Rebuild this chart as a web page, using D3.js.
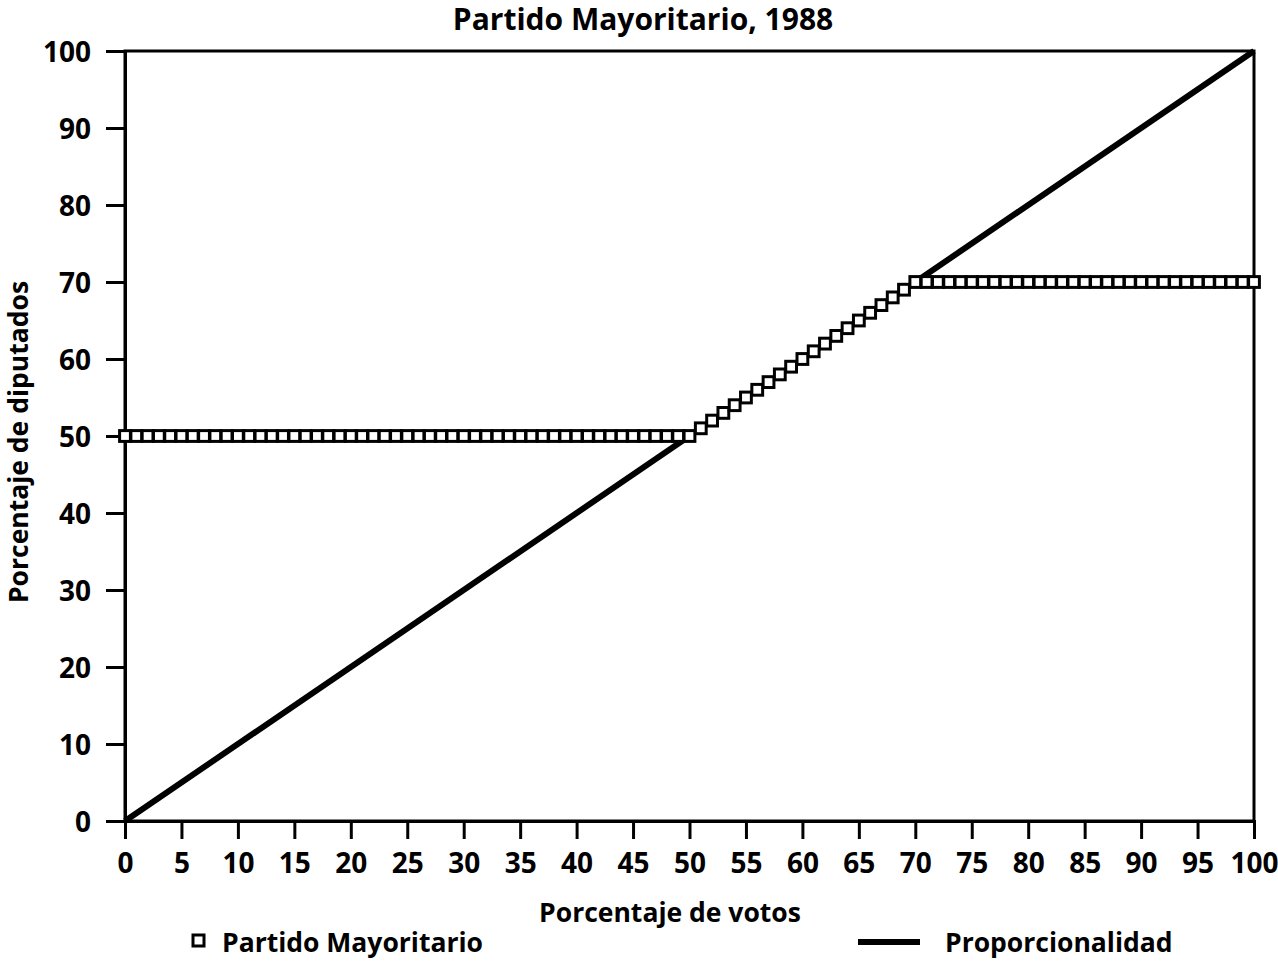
<!DOCTYPE html>
<html><head><meta charset="utf-8">
<script src="https://cdn.jsdelivr.net/npm/d3@7"></script>
<style>
body{margin:0;background:#fff;}
text{font-family:"Open Sans","Noto Sans",sans-serif;font-weight:700;fill:#000;}
</style></head>
<body><svg id="c" width="1278" height="961"></svg>
<script>
const votos = [0,1,2,3,4,5,6,7,8,9,10,11,12,13,14,15,16,17,18,19,20,21,22,23,24,25,26,27,28,29,30,31,32,33,34,35,36,37,38,39,40,41,42,43,44,45,46,47,48,49,50,51,52,53,54,55,56,57,58,59,60,61,62,63,64,65,66,67,68,69,70,71,72,73,74,75,76,77,78,79,80,81,82,83,84,85,86,87,88,89,90,91,92,93,94,95,96,97,98,99,100];
const diputados = [50,50,50,50,50,50,50,50,50,50,50,50,50,50,50,50,50,50,50,50,50,50,50,50,50,50,50,50,50,50,50,50,50,50,50,50,50,50,50,50,50,50,50,50,50,50,50,50,50,50,50,51,52,53,54,55,56,57,58,59,60,61,62,63,64,65,66,67,68,69,70,70,70,70,70,70,70,70,70,70,70,70,70,70,70,70,70,70,70,70,70,70,70,70,70,70,70,70,70,70,70];
const propX = [0,100];
const propY = [0,100];
const xTicks = [0,5,10,15,20,25,30,35,40,45,50,55,60,65,70,75,80,85,90,95,100];
const yTicks = [0,10,20,30,40,50,60,70,80,90,100];
const title = "Partido Mayoritario, 1988";
const xLabel = "Porcentaje de votos";
const yLabel = "Porcentaje de diputados";
const legendNames = ["Partido Mayoritario","Proporcionalidad"];

const svg = d3.select("#c");
const L=125,R=1254,T=51,B=821;
const x = d3.scaleLinear().domain([0,100]).range([L,R]);
const y = d3.scaleLinear().domain([0,100]).range([B,T]);

svg.append("rect").attr("x",L).attr("y",T).attr("width",R-L).attr("height",B-T)
  .attr("fill","none").attr("stroke","#000").attr("stroke-width",3);

const fs = 28;
const xa = svg.append("g").attr("transform",`translate(0,${B})`)
  .call(d3.axisBottom(x).tickValues(xTicks).tickSize(18).tickPadding(14).tickFormat(d3.format("d")));
const ya = svg.append("g").attr("transform",`translate(${L},0)`)
  .call(d3.axisLeft(y).tickValues(yTicks).tickSize(19).tickPadding(15).tickFormat(d3.format("d")));
[xa,ya].forEach(a=>{
  a.attr("font-family",null).attr("font-size",null);
  a.select(".domain").attr("stroke","#000").attr("stroke-width",3);
  a.selectAll(".tick line").attr("stroke","#000").attr("stroke-width",3);
  a.selectAll(".tick text").style("font-size",fs+"px").attr("fill","#000");
});
ya.selectAll(".tick text").attr("dy","0.36em");

svg.append("path").datum(propX.map((v,i)=>[v,propY[i]]))
  .attr("d",d3.line().x(d=>x(d[0])).y(d=>y(d[1])))
  .attr("fill","none").attr("stroke","#000").attr("stroke-width",6);

const s=10.8;
svg.append("g").selectAll("rect").data(votos.map((v,i)=>[v,diputados[i]])).join("rect")
  .attr("x",d=>x(d[0])-s/2).attr("y",d=>y(d[1])-s/2).attr("width",s).attr("height",s)
  .attr("fill","#fff").attr("stroke","#000").attr("stroke-width",3);

const lfs = "26.5px";
svg.append("text").attr("x",643).attr("y",30).attr("text-anchor","middle").style("font-size","30px").text(title);
svg.append("text").attr("x",670).attr("y",922).attr("text-anchor","middle").style("font-size",lfs).text(xLabel);
svg.append("text").attr("transform","translate(28,442) rotate(-90)").attr("text-anchor","middle").style("font-size",lfs).text(yLabel);

svg.append("rect").attr("x",193).attr("y",935).attr("width",11).attr("height",11)
  .attr("fill","#fff").attr("stroke","#000").attr("stroke-width",3);
svg.append("text").attr("x",222).attr("y",952).style("font-size",lfs).text(legendNames[0]);
svg.append("line").attr("x1",858).attr("x2",920).attr("y1",942).attr("y2",942).attr("stroke","#000").attr("stroke-width",6);
svg.append("text").attr("x",945).attr("y",952).style("font-size",lfs).text(legendNames[1]);
</script></body></html>
